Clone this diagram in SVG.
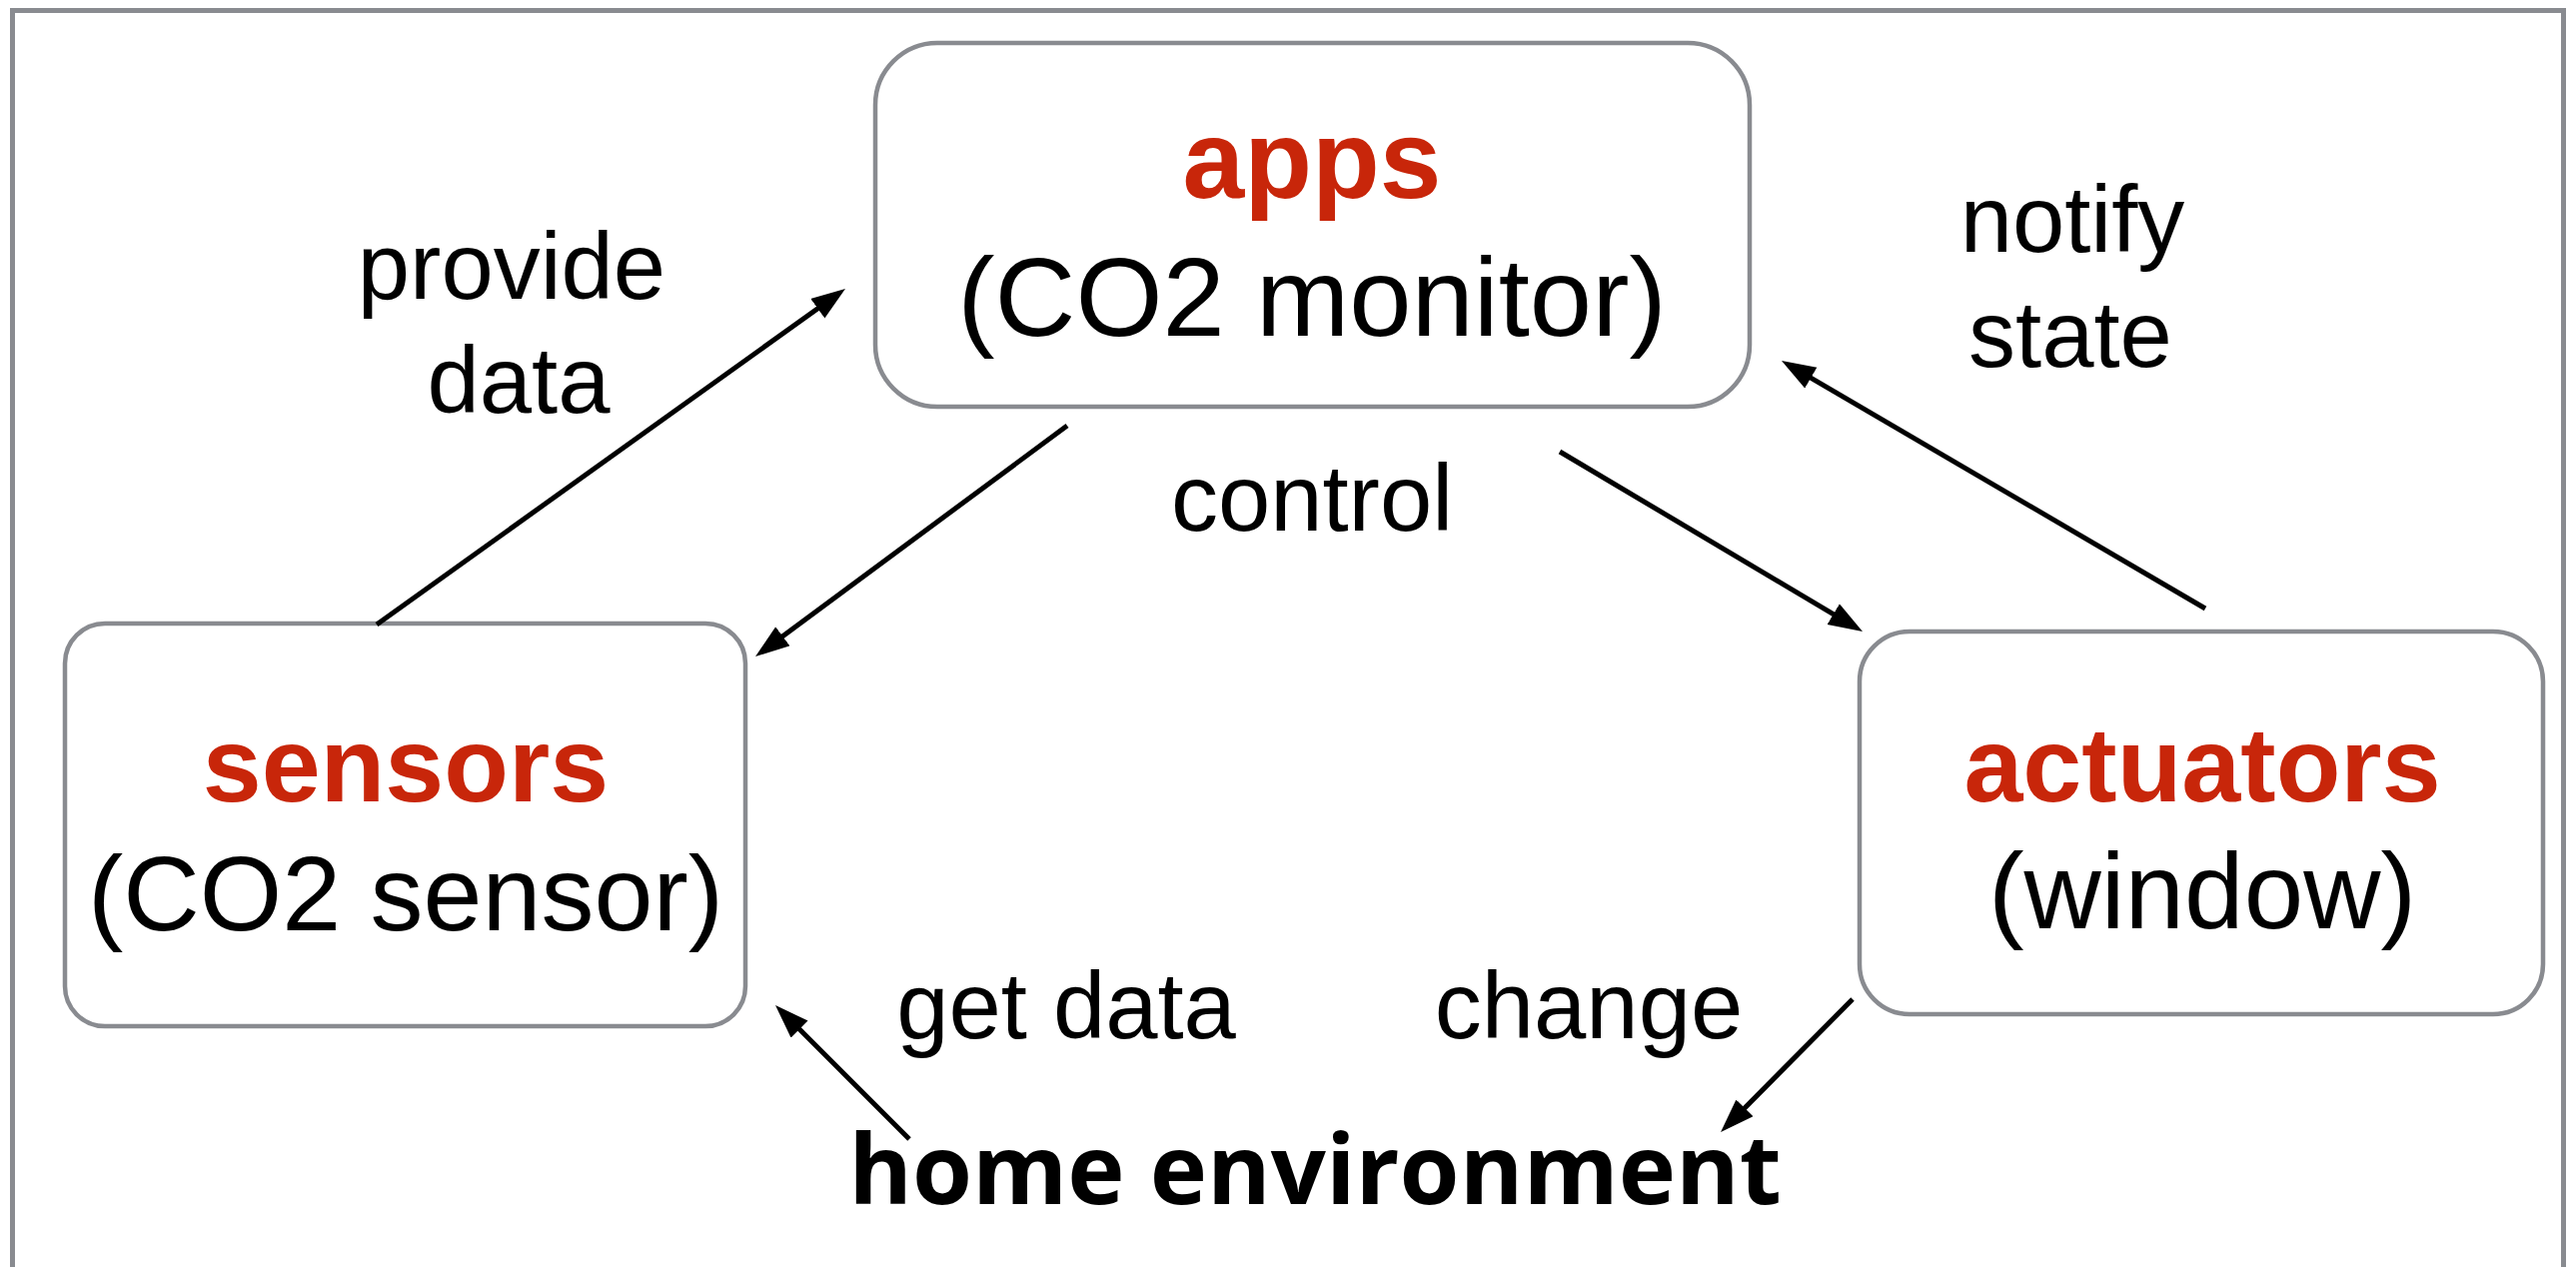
<svg xmlns="http://www.w3.org/2000/svg" width="2578" height="1268" viewBox="0 0 2578 1268">
  <style>
    .frame { fill: none; stroke: #898b90; stroke-width: 5; }
    .box { fill: #ffffff; stroke: #898b90; stroke-width: 4.5; }
    .title { font-family: "Liberation Sans", Arial, sans-serif; font-weight: bold; fill: #c8260a; text-anchor: middle; }
    .sub { font-family: "Liberation Sans", Arial, sans-serif; fill: #000000; text-anchor: middle; }
    .label { font-family: "Liberation Sans", Arial, sans-serif; font-size: 94px; fill: #000000; text-anchor: middle; }
    .env { font-family: "Open Sans", "Noto Sans", sans-serif; font-weight: bold; font-size: 97px; fill: #000000; text-anchor: middle; }
    .edge { fill: none; stroke: #000000; stroke-width: 5; marker-end: url(#head); }
  </style>
  <defs>
    <marker id="head" markerUnits="userSpaceOnUse" markerWidth="36" markerHeight="26" refX="19" refY="12" orient="auto">
      <path d="M0,0 L34,12 L0,24 z" fill="#000000"/>
    </marker>
  </defs>

  <rect width="2578" height="1268" fill="#ffffff"/>
  <!-- outer frame, open past the bottom edge -->
  <path class="frame" d="M12.5,1280 L12.5,10.5 L2565.5,10.5 L2565.5,1280"/>

  <g id="apps">
    <rect class="box" x="876" y="43" width="875" height="364" rx="62" ry="62"/>
    <text class="title" x="1313" y="198" font-size="111">apps</text>
    <text class="sub" x="1313" y="336" font-size="112">(CO2 monitor)</text>
  </g>

  <g id="sensors">
    <rect class="box" x="65" y="624" width="681" height="403" rx="40" ry="40"/>
    <text class="title" x="406" y="802" font-size="106">sensors</text>
    <text class="sub" x="406" y="931" font-size="106">(CO2 sensor)</text>
  </g>

  <g id="actuators">
    <rect class="box" x="1861" y="632" width="684" height="383" rx="50" ry="50"/>
    <text class="title" x="2204" y="802" font-size="106">actuators</text>
    <text class="sub" x="2204" y="929" font-size="107">(window)</text>
  </g>

  <g id="home-environment">
    <text class="env" x="1316" y="1205">home environment</text>
  </g>

  <g id="connectors">
    <line class="edge" x1="377" y1="625" x2="833.8" y2="297.7"/>
    <line class="edge" x1="1068" y1="426" x2="768.1" y2="648.1"/>
    <line class="edge" x1="1561" y1="452" x2="1851.1" y2="624.3"/>
    <line class="edge" x1="2207" y1="609" x2="1795.9" y2="368.6"/>
    <line class="edge" x1="910" y1="1140" x2="786.6" y2="1016.6"/>
    <line class="edge" x1="1854" y1="1000" x2="1732.6" y2="1122.4"/>
  </g>

  <g id="labels">
    <text class="label" x="512" y="299">provide</text>
    <text class="label" x="519" y="413">data</text>
    <text class="label" x="1313" y="531">control</text>
    <text class="label" x="2074" y="252">notify</text>
    <text class="label" x="2072" y="367">state</text>
    <text class="label" x="1067" y="1039">get data</text>
    <text class="label" x="1590" y="1039">change</text>
  </g>
</svg>
